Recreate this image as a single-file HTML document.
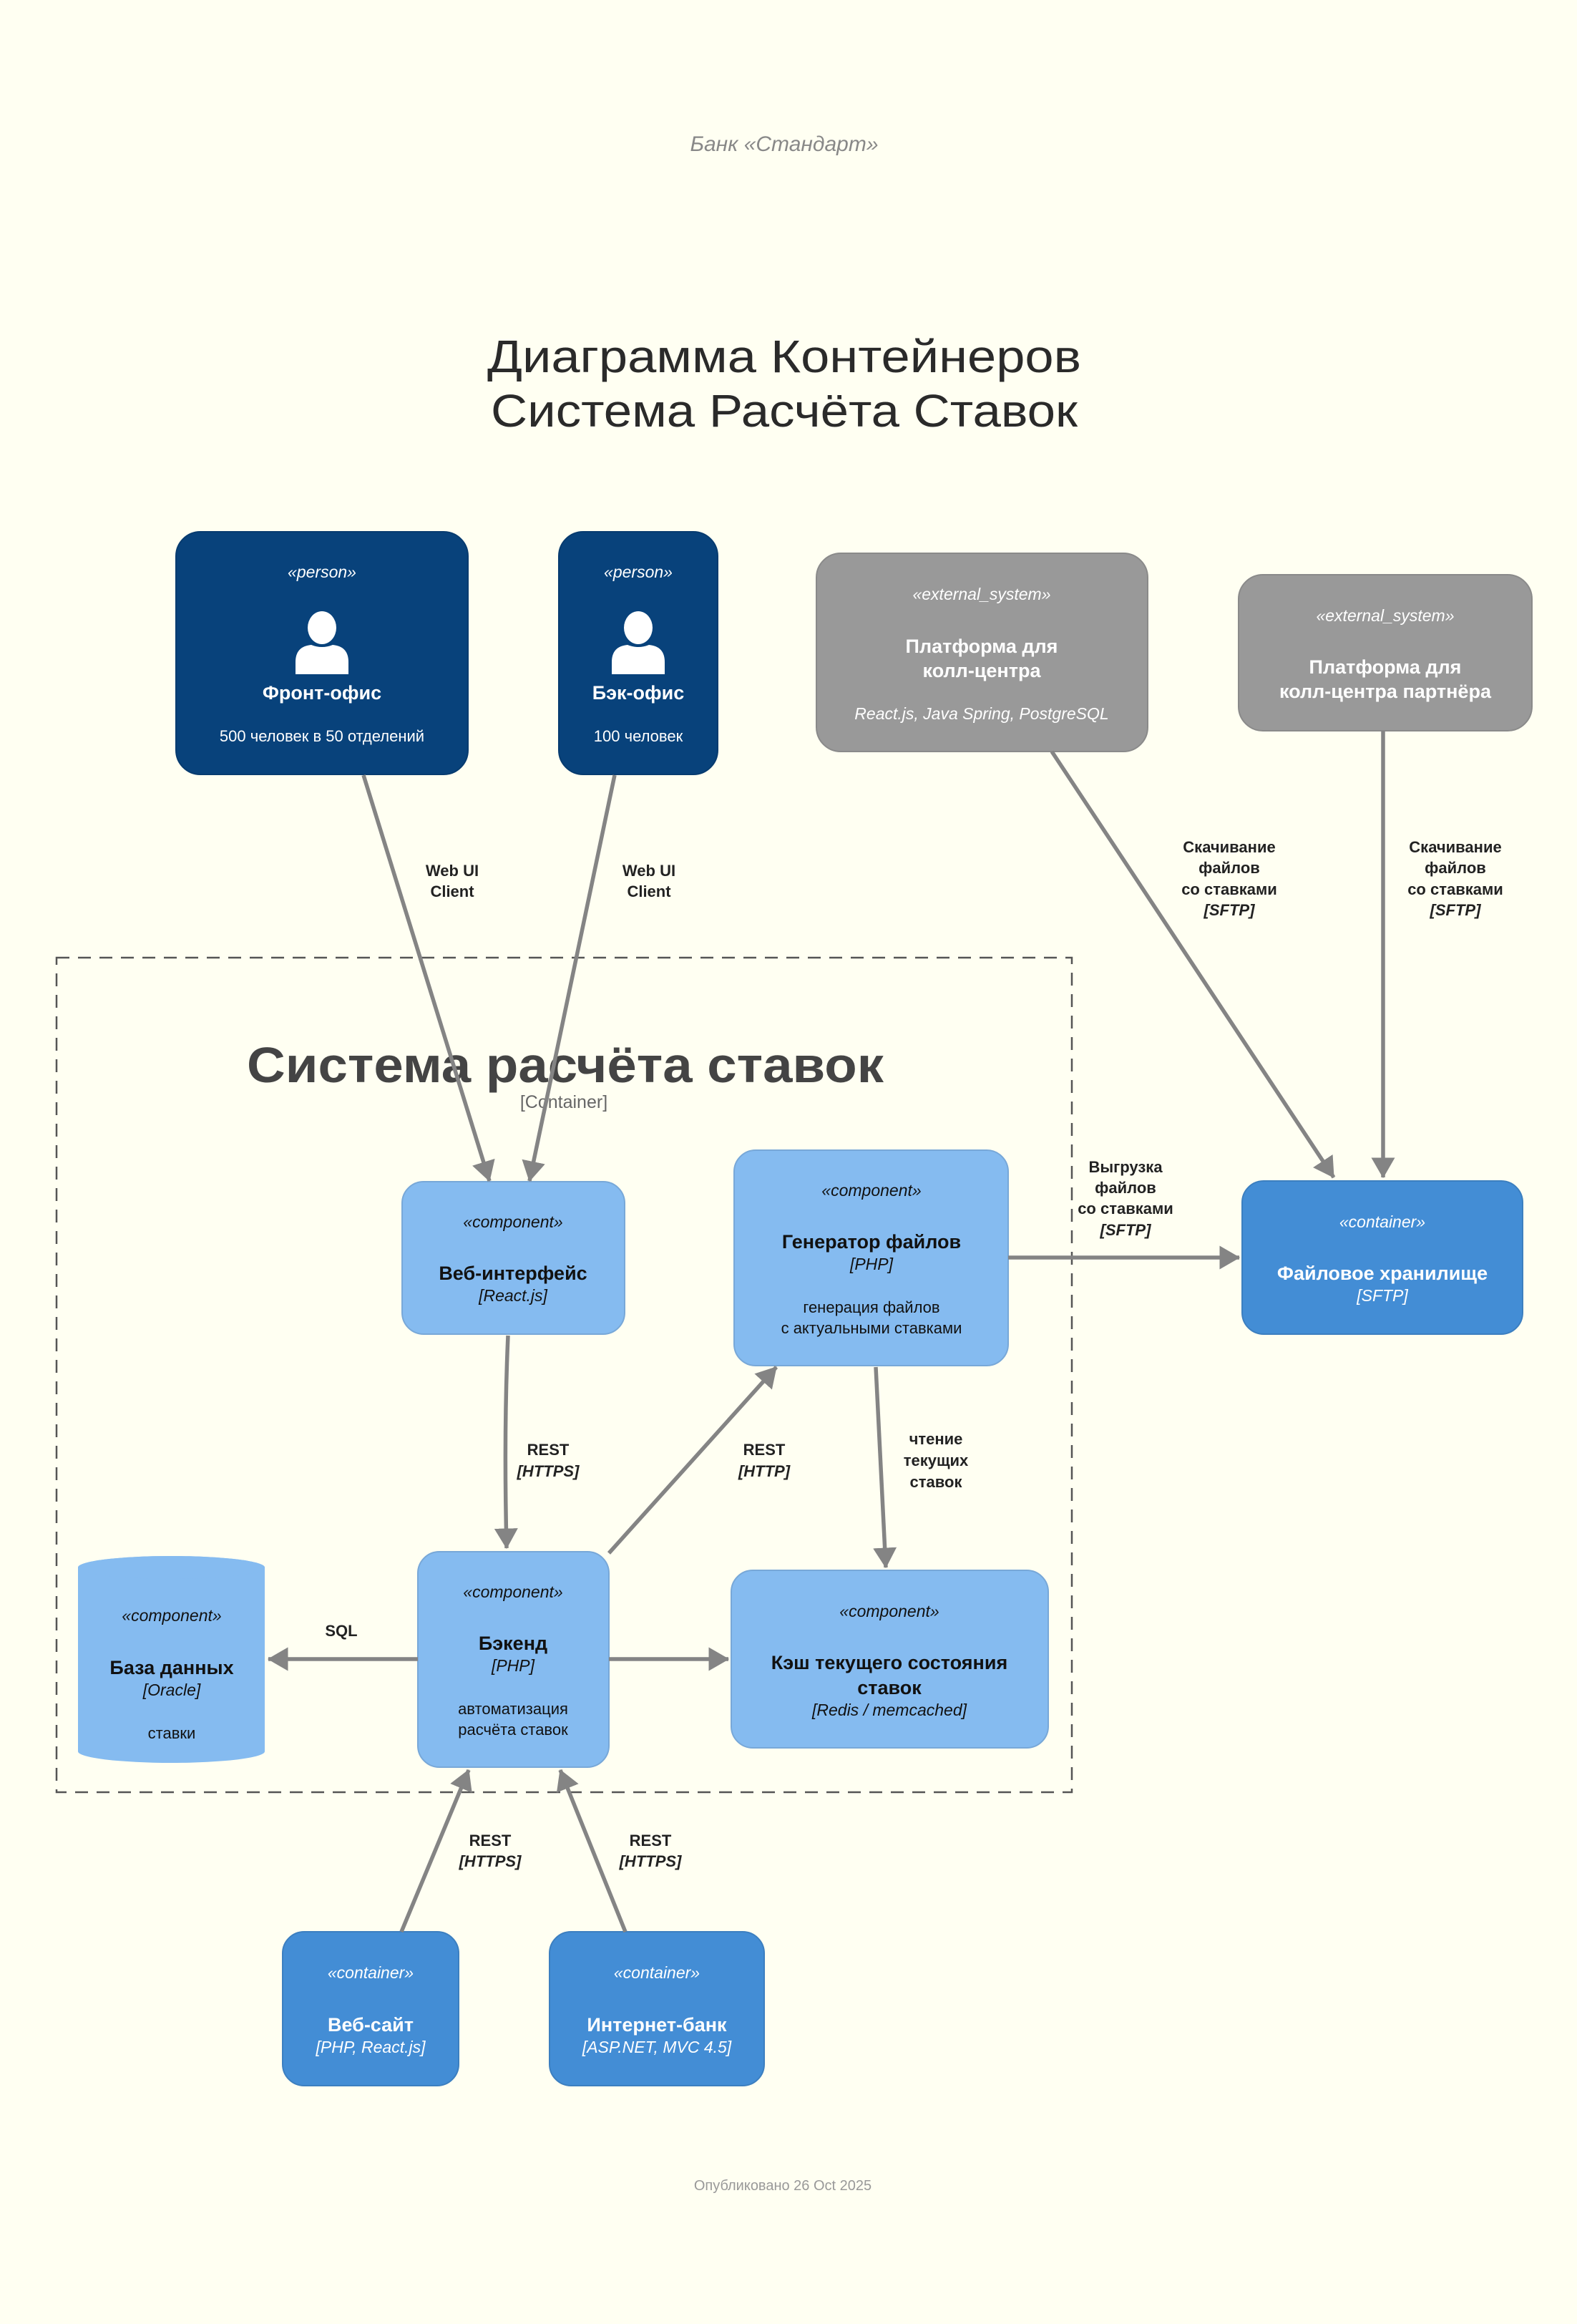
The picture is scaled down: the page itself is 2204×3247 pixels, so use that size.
<!DOCTYPE html>
<html><head><meta charset="utf-8"><style>
html,body{margin:0;padding:0;background:#fffff2;}
svg{display:block;}
text{font-family:"Liberation Sans","DejaVu Sans",sans-serif;}
.st{font-size:23px;font-style:italic;fill:#fff;}
.nm{font-size:27px;font-weight:bold;fill:#fff;}
.tc{font-size:23px;font-style:italic;fill:#fff;}
.ds{font-size:22px;fill:#fff;}
.dk{fill:#111;}
.lb{font-size:22px;font-weight:bold;fill:#222;}
.lbi{font-size:22px;font-weight:bold;font-style:italic;fill:#222;}
.ar{stroke:#848484;stroke-width:5.5;fill:none;marker-end:url(#ah);}
</style></head><body>
<svg width="2204" height="3247" viewBox="0 0 2204 3247" xmlns="http://www.w3.org/2000/svg">
<defs>
<marker id="ah" markerWidth="6" markerHeight="6" refX="5" refY="3" orient="auto" markerUnits="strokeWidth">
<path d="M0,0 L5.2,3 L0,6 z" fill="#848484"/>
</marker>
<g id="person">
<ellipse cx="0" cy="0" rx="20" ry="23" fill="#fff"/>
<path d="M-37,65 L-37,48 Q-37,26 -15,24 Q0,30 15,24 Q37,26 37,48 L37,65 Z" fill="#fff"/>
</g>
</defs>
<rect width="2204" height="3247" fill="#fffff2"/>

<text x="1096" y="211" text-anchor="middle" font-size="30" font-style="italic" fill="#888">Банк «Стандарт»</text>
<text x="1096" y="520" text-anchor="middle" font-size="64" fill="#2a2a2a" textLength="830" lengthAdjust="spacingAndGlyphs">Диаграмма Контейнеров</text>
<text x="1096" y="596" text-anchor="middle" font-size="64" fill="#2a2a2a" textLength="820" lengthAdjust="spacingAndGlyphs">Система Расчёта Ставок</text>

<!-- boundary -->
<rect x="79" y="1338" width="1419" height="1166" fill="none" stroke="#555" stroke-width="2.5" stroke-dasharray="18,12"/>
<text x="790" y="1512" text-anchor="middle" font-size="70" font-weight="bold" fill="#444" textLength="890" lengthAdjust="spacingAndGlyphs">Система расчёта ставок</text>
<text x="788" y="1548" text-anchor="middle" font-size="25" fill="#666">[Container]</text>

<!-- persons -->
<rect x="246" y="743" width="408" height="339" rx="34" fill="#08427b" stroke="#073b6f" stroke-width="2"/>
<text x="450" y="807" text-anchor="middle" class="st">«person»</text>
<use href="#person" x="450" y="877"/>
<text x="450" y="977" text-anchor="middle" class="nm">Фронт-офис</text>
<text x="450" y="1036" text-anchor="middle" class="ds">500 человек в 50 отделений</text>

<rect x="781" y="743" width="222" height="339" rx="34" fill="#08427b" stroke="#073b6f" stroke-width="2"/>
<text x="892" y="807" text-anchor="middle" class="st">«person»</text>
<use href="#person" x="892" y="877"/>
<text x="892" y="977" text-anchor="middle" class="nm">Бэк-офис</text>
<text x="892" y="1036" text-anchor="middle" class="ds">100 человек</text>

<!-- external systems -->
<rect x="1141" y="773" width="463" height="277" rx="34" fill="#999" stroke="#8a8a8a" stroke-width="2"/>
<text x="1372" y="838" text-anchor="middle" class="st">«external_system»</text>
<text x="1372" y="912" text-anchor="middle" class="nm">Платформа для</text>
<text x="1372" y="946" text-anchor="middle" class="nm">колл-центра</text>
<text x="1372" y="1005" text-anchor="middle" class="tc">React.js, Java Spring, PostgreSQL</text>

<rect x="1731" y="803" width="410" height="218" rx="34" fill="#999" stroke="#8a8a8a" stroke-width="2"/>
<text x="1936" y="868" text-anchor="middle" class="st">«external_system»</text>
<text x="1936" y="941" text-anchor="middle" class="nm">Платформа для</text>
<text x="1936" y="975" text-anchor="middle" class="nm">колл-центра партнёра</text>

<!-- file storage -->
<rect x="1736" y="1650" width="392" height="214" rx="30" fill="#438dd5" stroke="#3c7fc0" stroke-width="2"/>
<text x="1932" y="1715" text-anchor="middle" class="st">«container»</text>
<text x="1932" y="1788" text-anchor="middle" class="nm">Файловое хранилище</text>
<text x="1932" y="1818" text-anchor="middle" class="tc">[SFTP]</text>

<!-- components -->
<rect x="562" y="1651" width="311" height="213" rx="30" fill="#85bbf0" stroke="#78a8d8" stroke-width="2"/>
<text x="717" y="1715" text-anchor="middle" class="st dk">«component»</text>
<text x="717" y="1788" text-anchor="middle" class="nm dk">Веб-интерфейс</text>
<text x="717" y="1818" text-anchor="middle" class="tc dk">[React.js]</text>

<rect x="1026" y="1607" width="383" height="301" rx="30" fill="#85bbf0" stroke="#78a8d8" stroke-width="2"/>
<text x="1218" y="1671" text-anchor="middle" class="st dk">«component»</text>
<text x="1218" y="1744" text-anchor="middle" class="nm dk">Генератор файлов</text>
<text x="1218" y="1774" text-anchor="middle" class="tc dk">[PHP]</text>
<text x="1218" y="1834" text-anchor="middle" class="ds dk">генерация файлов</text>
<text x="1218" y="1863" text-anchor="middle" class="ds dk">с актуальными ставками</text>

<rect x="584" y="2168" width="267" height="301" rx="30" fill="#85bbf0" stroke="#78a8d8" stroke-width="2"/>
<text x="717" y="2232" text-anchor="middle" class="st dk">«component»</text>
<text x="717" y="2305" text-anchor="middle" class="nm dk">Бэкенд</text>
<text x="717" y="2335" text-anchor="middle" class="tc dk">[PHP]</text>
<text x="717" y="2395" text-anchor="middle" class="ds dk">автоматизация</text>
<text x="717" y="2424" text-anchor="middle" class="ds dk">расчёта ставок</text>

<rect x="1022" y="2194" width="443" height="248" rx="30" fill="#85bbf0" stroke="#78a8d8" stroke-width="2"/>
<text x="1243" y="2259" text-anchor="middle" class="st dk">«component»</text>
<text x="1243" y="2332" text-anchor="middle" class="nm dk">Кэш текущего состояния</text>
<text x="1243" y="2367" text-anchor="middle" class="nm dk">ставок</text>
<text x="1243" y="2397" text-anchor="middle" class="tc dk">[Redis / memcached]</text>

<!-- DB cylinder -->
<path d="M109,2190 A130.5,16 0 0 1 370,2190 L370,2447 A130.5,16 0 0 1 109,2447 Z" fill="#85bbf0"/>
<ellipse cx="239.5" cy="2190" rx="130.5" ry="16" fill="#85bbf0"/>
<text x="240" y="2265" text-anchor="middle" class="st dk">«component»</text>
<text x="240" y="2339" text-anchor="middle" class="nm dk">База данных</text>
<text x="240" y="2369" text-anchor="middle" class="tc dk">[Oracle]</text>
<text x="240" y="2429" text-anchor="middle" class="ds dk">ставки</text>

<!-- bottom containers -->
<rect x="395" y="2699" width="246" height="215" rx="30" fill="#438dd5" stroke="#3c7fc0" stroke-width="2"/>
<text x="518" y="2764" text-anchor="middle" class="st">«container»</text>
<text x="518" y="2838" text-anchor="middle" class="nm">Веб-сайт</text>
<text x="518" y="2868" text-anchor="middle" class="tc">[PHP, React.js]</text>

<rect x="768" y="2699" width="300" height="215" rx="30" fill="#438dd5" stroke="#3c7fc0" stroke-width="2"/>
<text x="918" y="2764" text-anchor="middle" class="st">«container»</text>
<text x="918" y="2838" text-anchor="middle" class="nm">Интернет-банк</text>
<text x="918" y="2868" text-anchor="middle" class="tc">[ASP.NET, MVC 4.5]</text>

<!-- arrows -->
<line class="ar" x1="508" y1="1083" x2="684" y2="1650"/>
<line class="ar" x1="859" y1="1083" x2="740" y2="1650"/>
<line class="ar" x1="1470" y1="1050" x2="1864" y2="1645"/>
<line class="ar" x1="1933" y1="1021" x2="1933" y2="1645"/>
<line class="ar" x1="1409" y1="1757" x2="1732" y2="1757"/>
<path class="ar" d="M710,1866 Q704,2000 708,2163"/>
<line class="ar" x1="851" y1="2170" x2="1085" y2="1910"/>
<line class="ar" x1="1224" y1="1910" x2="1238" y2="2190"/>
<line class="ar" x1="584" y1="2318" x2="375" y2="2318"/>
<line class="ar" x1="851" y1="2318" x2="1018" y2="2318"/>
<line class="ar" x1="561" y1="2699" x2="655" y2="2473"/>
<line class="ar" x1="874" y1="2699" x2="783" y2="2473"/>

<!-- labels -->
<text x="632" y="1224" text-anchor="middle" class="lb">Web UI</text>
<text x="632" y="1253" text-anchor="middle" class="lb">Client</text>
<text x="907" y="1224" text-anchor="middle" class="lb">Web UI</text>
<text x="907" y="1253" text-anchor="middle" class="lb">Client</text>

<text x="1718" y="1191" text-anchor="middle" class="lb">Скачивание</text>
<text x="1718" y="1220" text-anchor="middle" class="lb">файлов</text>
<text x="1718" y="1250" text-anchor="middle" class="lb">со ставками</text>
<text x="1718" y="1279" text-anchor="middle" class="lbi">[SFTP]</text>
<text x="2034" y="1191" text-anchor="middle" class="lb">Скачивание</text>
<text x="2034" y="1220" text-anchor="middle" class="lb">файлов</text>
<text x="2034" y="1250" text-anchor="middle" class="lb">со ставками</text>
<text x="2034" y="1279" text-anchor="middle" class="lbi">[SFTP]</text>

<text x="1573" y="1638" text-anchor="middle" class="lb">Выгрузка</text>
<text x="1573" y="1667" text-anchor="middle" class="lb">файлов</text>
<text x="1573" y="1696" text-anchor="middle" class="lb">со ставками</text>
<text x="1573" y="1726" text-anchor="middle" class="lbi">[SFTP]</text>

<text x="766" y="2033" text-anchor="middle" class="lb">REST</text>
<text x="766" y="2063" text-anchor="middle" class="lbi">[HTTPS]</text>
<text x="1068" y="2033" text-anchor="middle" class="lb">REST</text>
<text x="1068" y="2063" text-anchor="middle" class="lbi">[HTTP]</text>
<text x="1308" y="2018" text-anchor="middle" class="lb">чтение</text>
<text x="1308" y="2048" text-anchor="middle" class="lb">текущих</text>
<text x="1308" y="2078" text-anchor="middle" class="lb">ставок</text>
<text x="477" y="2286" text-anchor="middle" class="lb">SQL</text>

<text x="685" y="2579" text-anchor="middle" class="lb">REST</text>
<text x="685" y="2608" text-anchor="middle" class="lbi">[HTTPS]</text>
<text x="909" y="2579" text-anchor="middle" class="lb">REST</text>
<text x="909" y="2608" text-anchor="middle" class="lbi">[HTTPS]</text>

<text x="1094" y="3060" text-anchor="middle" font-size="20" fill="#999">Опубликовано 26 Oct 2025</text>
</svg>
</body></html>
